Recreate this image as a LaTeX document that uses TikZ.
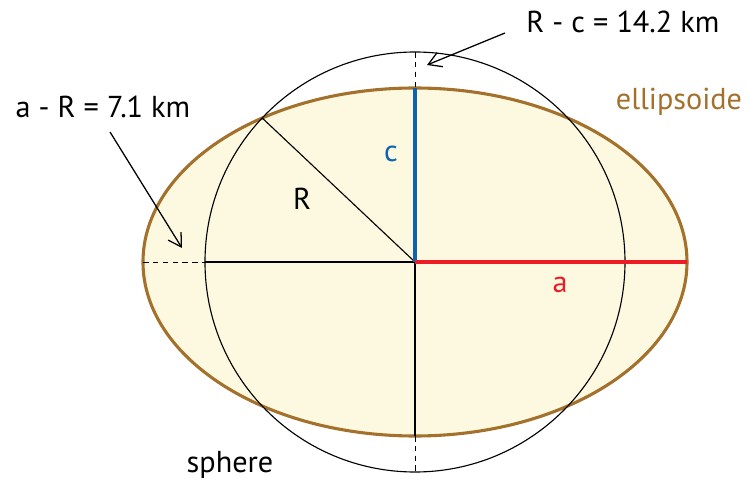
\documentclass[tikz,border=0pt]{standalone}
\usepackage{fontspec}
\setmainfont{PT Sans}
\usetikzlibrary{arrows.meta}
\definecolor{braun}{HTML}{A3712C}
\definecolor{gelb}{HTML}{FDF9E0}
\definecolor{rot}{HTML}{ED1C24}
\definecolor{blau}{HTML}{0F62AE}
\tikzset{
  ellip/.style={fill=gelb,draw=braun,line width=2.2pt},
  kugel/.style={black,line width=0.8pt},
  hilf/.style={black,dashed,dash pattern=on 4pt off 3pt,line width=0.7pt},
  pfeil/.style={-{Straight Barb[length=3.2mm,width=3.8mm,line width=0.9pt]},black,line width=0.9pt},
  achse/.style={line width=3.3pt},
  beschr/.style={font=\fontsize{21.5}{24}\selectfont,anchor=base},
}

\begin{document}
\begin{tikzpicture}[x=0.025cm,y=0.025cm]
  \useasboundingbox (-415,-217) rectangle (334,262);
  % ellipsoid and sphere
  \draw[ellip] (0,0) ellipse [x radius=272,y radius=174];
  \draw[kugel] (0,0) circle [radius=210];
  \draw[hilf] (0,210) -- (0,-211);
  \draw[hilf] (-272,0) -- (0,0);
  \draw[kugel] (-210,0) -- (0,0) -- (0,-174);
  \draw[kugel] (0,0) -- (136.7:210);
  % half axes
  \draw[achse,blau] (0,0) -- (0,174);
  \draw[achse,rot] (0,0) -- (272,0);
  % labels
  \node[beschr,blau] (lc) at (-24,100) {c};
  \node[beschr,rot] (la) at (145,-30) {a};
  \node[beschr] (lr) at (-113,52) {R};
  \node[beschr,braun,anchor=base east] (lell) at (332,152) {ellipsoide};
  \node[beschr] (lsph) at (-185,-210) {sphere};
  \node[beschr] (lrc) at (208,229) {R - c = 14.2 km};
  \node[beschr] (lar) at (-312,144) {a - R = 7.1 km};
  % arrows
  \coordinate (rcvon) at (90,229);
  \coordinate (rcbis) at (12,197);
  \coordinate (arvon) at (-305,130);
  \coordinate (arbis) at (-233,14);
  \draw[pfeil] (rcvon) -- (rcbis);
  \draw[pfeil] (arvon) -- (arbis);
\end{tikzpicture}
\end{document}
